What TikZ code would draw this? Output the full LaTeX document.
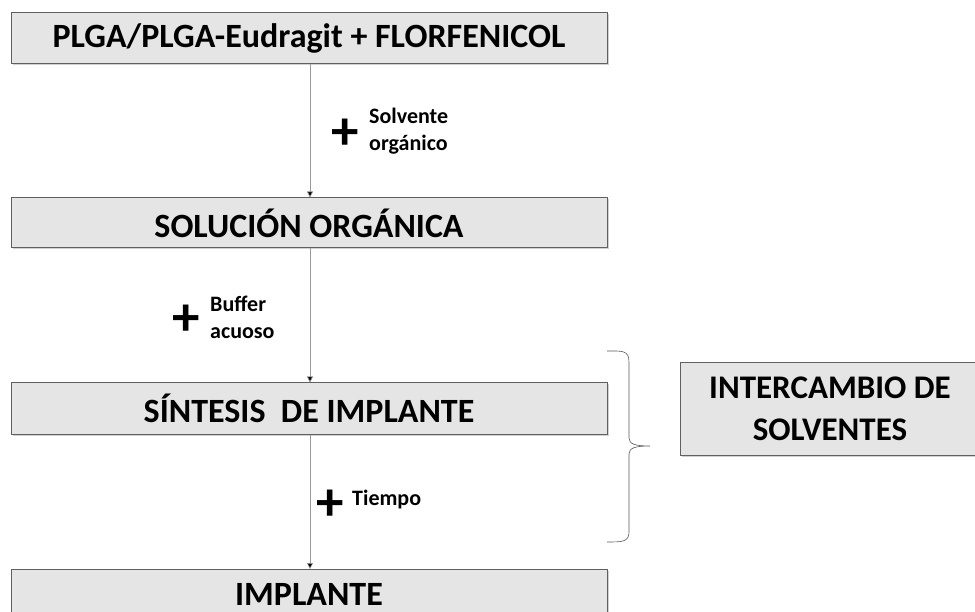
\documentclass[tikz,border=0pt]{standalone}
\usepackage{fontspec}
\setmainfont{Carlito}
\usetikzlibrary{arrows.meta,shadows}
\begin{document}
\begin{tikzpicture}[x=1pt,y=-1pt,
  stepbox/.style={draw=gray!75!black,line width=1pt,fill=gray!20,minimum width=596pt,minimum height=50pt,inner sep=0pt,font=\bfseries\fontsize{34}{36}\selectfont,drop shadow={shadow xshift=1.5pt,shadow yshift=-1.5pt,opacity=0.35}},
  conn/.style={draw=gray!80,line width=0.6pt,-{Triangle[length=6pt,width=6pt,fill=black]}},
  plus/.style={font=\bfseries\fontsize{55}{55}\selectfont,inner sep=0pt},
  lab/.style={font=\bfseries\fontsize{22}{27}\selectfont,align=left,inner sep=0pt,anchor=west}]
\useasboundingbox (0,0) rectangle (975,612);
\path[fill=white] (0,0) rectangle (975,612);
\node[stepbox,minimum height=51pt] (b1) at (309,38.5) {PLGA/PLGA-Eudragit + FLORFENICOL};
\node[stepbox] (b2) at (309,223) {SOLUCIÓN ORGÁNICA};
\node[stepbox,minimum height=51pt] (b3) at (309,408.5) {SÍNTESIS\ \ DE IMPLANTE};
\node[stepbox,anchor=north] (b4) at (309,569) {IMPLANTE};
\node[stepbox,minimum width=300pt,minimum height=92pt,align=center,font=\bfseries\fontsize{33}{42}\selectfont] (b5) at (830,409) {INTERCAMBIO DE\\SOLVENTES};
\draw[conn] (b1.south -| 310,0) -- (b2.north -| 310,0);
\draw[conn] (b2.south -| 310,0) -- (b3.north -| 310,0);
\draw[conn] (b3.south -| 310,0) -- (b4.north -| 310,0);
\node[plus] (p1) at (345,134) {+};
\node[lab] (l1) at (369,131) {Solvente\\orgánico};
\node[plus] (p2) at (186,320) {+};
\node[lab] (l2) at (210,317) {Buffer\\acuoso};
\node[plus] (p3) at (330,505) {+};
\node[lab] (l3) at (352,500) {Tiempo};
\coordinate (bt) at (607,351);
\coordinate (bb) at (607,542);
\coordinate (btip) at (650,446);
\draw[gray!70!black,line width=0.6pt] (bt) .. controls (622,351) and (629,350) .. (629,362) -- (629,438) .. controls (629,444) and (635,446) .. (btip) .. controls (635,446) and (629,448) .. (629,454) -- (629,532) .. controls (629,542) and (622,542) .. (bb);
\end{tikzpicture}
\end{document}
